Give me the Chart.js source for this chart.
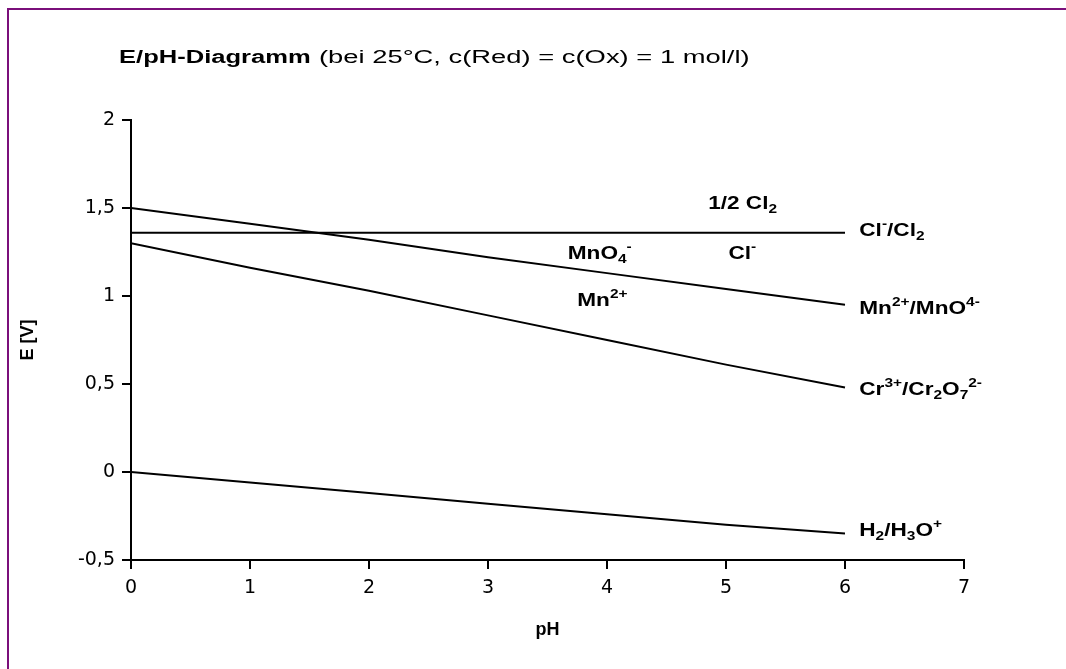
<!DOCTYPE html>
<html>
<head>
<meta charset="utf-8">
<script src="https://cdn.jsdelivr.net/npm/chart.js@4.4.1/dist/chart.umd.min.js"></script>
<style>
  html, body { margin: 0; padding: 0; background: #fff; overflow: hidden; }
  #wrap { position: relative; width: 1066px; height: 669px; background: #fff; }
  #c { position: absolute; left: 0; top: 0; }
  #frame { position: absolute; left: 7px; top: 8px; width: 1200px; height: 800px;
           border-left: 2px solid #7a0f7a; border-top: 2px solid #7a0f7a; pointer-events: none; }
</style>
</head>
<body>
<div id="wrap">
  <canvas id="c" width="1066" height="669"></canvas>
  <div id="frame"></div>
</div>
<script>
// ---------- data ----------
const pH        = [0, 1, 2, 3, 4, 5, 6];
const clCl2     = [1.36, 1.36, 1.36, 1.36, 1.36, 1.36, 1.36];
const mnMnO4    = [1.50, 1.41, 1.32, 1.22, 1.13, 1.04, 0.95];
const crCr2O7   = [1.30, 1.16, 1.03, 0.89, 0.75, 0.61, 0.48];
const h2H3O     = [0.00, -0.06, -0.12, -0.18, -0.24, -0.30, -0.35];

const xMin = 0, xMax = 7, xStep = 1;
const yMin = -0.5, yMax = 2, yStep = 0.5;

const titleBold = 'E/pH-Diagramm';
const titleRest = '(bei 25°C, c(Red) = c(Ox) = 1 mol/l)';
const xTitle = 'pH';
const yTitle = 'E [V]';

// series labels (rich text segments) and region labels, anchored in data units
const annotations = [
  { at: [6.12, 1.339], segs: [['Cl'], ['-', 'sup'], ['/Cl'], ['2', 'sub']] },
  { at: [6.12, 0.895], segs: [['Mn'], ['2+', 'sup'], ['/MnO'], ['4-', 'sup']] },
  { at: [6.12, 0.435], segs: [['Cr'], ['3+', 'sup'], ['/Cr'], ['2', 'sub'], ['O'], ['7', 'sub'], ['2-', 'sup']] },
  { at: [6.12, -0.366], segs: [['H'], ['2', 'sub'], ['/H'], ['3', 'sub'], ['O'], ['+', 'sup']] },
  { at: [4.85, 1.497], segs: [['1/2 Cl'], ['2', 'sub']] },
  { at: [3.67, 1.213], segs: [['MnO'], ['4', 'sub'], ['-', 'sup']] },
  { at: [5.02, 1.213], segs: [['Cl'], ['-', 'sup']] },
  { at: [3.75, 0.946], segs: [['Mn'], ['2+', 'sup']] }
];

// ---------- helpers ----------
const FONT = '"Liberation Sans", Arial, Helvetica, sans-serif';
function pts(ys) { return pH.map((x, i) => ({ x: x, y: ys[i] })); }

function drawRich(ctx, segs, x, y, size, sx) {
  ctx.save();
  ctx.translate(x, y);
  ctx.scale(sx, 1);
  ctx.fillStyle = '#000';
  ctx.textBaseline = 'alphabetic';
  ctx.textAlign = 'left';
  let cx = 0;
  for (const [t, kind] of segs) {
    const s = kind ? Math.round(size * 0.68) : size;
    ctx.font = 'bold ' + s + 'px ' + FONT;
    const dy = kind === 'sub' ? 4 : kind === 'sup' ? -8 : 0;
    ctx.fillText(t, cx, dy);
    cx += ctx.measureText(t).width;
  }
  ctx.restore();
}

const textPlugin = {
  id: 'textPlugin',
  afterDraw(chart) {
    const ctx = chart.ctx;
    const xs = chart.scales.x, ys = chart.scales.y;
    // title
    ctx.save();
    ctx.fillStyle = '#000';
    ctx.textBaseline = 'alphabetic';
    ctx.textAlign = 'left';
    ctx.translate(119, 63);
    ctx.save();
    ctx.scale(1.42, 1);
    ctx.font = 'bold 18px ' + FONT;
    ctx.fillText(titleBold, 0, 0);
    ctx.restore();
    ctx.translate(200, 0);
    ctx.scale(1.52, 1);
    ctx.font = '18px ' + FONT;
    ctx.fillText(titleRest, 0, 0);
    ctx.restore();
    // annotations
    for (const a of annotations) {
      drawRich(ctx, a.segs, xs.getPixelForValue(a.at[0]), ys.getPixelForValue(a.at[1]), 19, 1.19);
    }
  }
};

const axisCommon = {
  type: 'linear',
  grid: { drawOnChartArea: false, drawTicks: true, tickLength: 9, color: '#000', lineWidth: 2 },
  border: { display: true, color: '#000', width: 2 }
};

new Chart(document.getElementById('c'), {
  type: 'line',
  data: {
    datasets: [
      { label: 'Cl-/Cl2', data: pts(clCl2) },
      { label: 'Mn2+/MnO4-', data: pts(mnMnO4) },
      { label: 'Cr3+/Cr2O72-', data: pts(crCr2O7) },
      { label: 'H2/H3O+', data: pts(h2H3O) }
    ].map(d => Object.assign(d, {
      borderColor: '#000', backgroundColor: '#000', borderWidth: 2,
      pointRadius: 0, tension: 0, fill: false
    }))
  },
  options: {
    responsive: false,
    animation: false,
    layout: { padding: { top: 120, right: 102, left: 0, bottom: 0 } },
    plugins: { legend: { display: false }, tooltip: { enabled: false }, title: { display: false } },
    scales: {
      x: Object.assign({}, axisCommon, {
        min: xMin, max: xMax,
        ticks: { stepSize: xStep, color: '#000', padding: 8, maxRotation: 0,
                 font: { family: '"DejaVu Sans", sans-serif', size: 19 } },
        title: { display: true, text: xTitle, color: '#000',
                 font: { family: FONT, size: 18, weight: 'bold' }, padding: { top: 4, bottom: 28 } },
        afterFit(s) { s.height = 109; }
      }),
      y: Object.assign({}, axisCommon, {
        min: yMin, max: yMax,
        ticks: { stepSize: yStep, color: '#000', padding: 7,
                 font: { family: '"DejaVu Sans", sans-serif', size: 19 },
                 callback: v => String(v).replace('.', ',') },
        title: { display: true, text: yTitle, color: '#000',
                 font: { family: FONT, size: 18, weight: 'bold' }, padding: { top: 17, bottom: 0 } },
        afterFit(s) { s.width = 131; }
      })
    }
  },
  plugins: [textPlugin]
});
</script>
</body>
</html>
